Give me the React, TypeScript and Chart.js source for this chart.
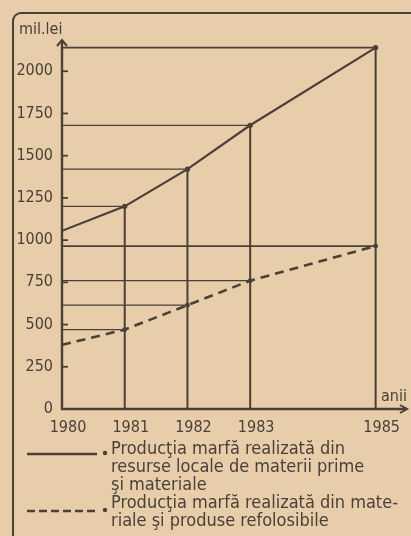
import React, { useEffect, useRef } from "react";
import { Chart, registerables } from "chart.js";

Chart.register(...registerables);

const YEARS = [1980, 1981, 1982, 1983, 1985];
const LOCAL_RESOURCES = [1055, 1200, 1420, 1680, 2140];
const RECYCLED = [380, 470, 615, 760, 965];
const Y_TICKS = [0, 250, 500, 750, 1000, 1250, 1500, 1750, 2000];
const X_TICKS = [1980, 1981, 1982, 1983, 1985];
const Y_TITLE = "mil.lei";
const X_TITLE = "anii";
const LEGEND_1 = [
  "Producţia marfă realizată din",
  "resurse locale de materii prime",
  "şi materiale",
];
const LEGEND_2 = [
  "Producţia marfă realizată din mate-",
  "riale şi produse refolosibile",
];

const PAPER = "#e8cdaa";
const INK = "#4a4038";
const FONT = "'DejaVu Sans', sans-serif";

function seg(ctx: CanvasRenderingContext2D, x1: number, y1: number, x2: number, y2: number) {
  ctx.beginPath();
  ctx.moveTo(x1, y1);
  ctx.lineTo(x2, y2);
  ctx.stroke();
}

const decor = {
  id: "decor",
  beforeDatasetsDraw(chart: any) {
    const ctx: CanvasRenderingContext2D = chart.ctx;
    const xs = chart.scales.x;
    const ys = chart.scales.y;
    const ca = chart.chartArea;
    ctx.save();
    ctx.strokeStyle = INK;
    ctx.lineCap = "butt";
    // horizontal guide lines
    [LOCAL_RESOURCES, RECYCLED].forEach((series) =>
      series.forEach((v, i) => {
        if (i === 0) return;
        const px = xs.getPixelForValue(YEARS[i]);
        const py = ys.getPixelForValue(v);
        ctx.lineWidth = i === YEARS.length - 1 ? 1.8 : 1.2;
        seg(ctx, ca.left, py, px, py);
      })
    );
    // vertical guide lines
    ctx.lineWidth = 2;
    YEARS.forEach((yr, i) => {
      if (i === 0) return;
      const px = xs.getPixelForValue(yr);
      seg(ctx, px, ca.bottom, px, ys.getPixelForValue(LOCAL_RESOURCES[i]));
    });
    // y tick marks (inside)
    ctx.lineWidth = 1.8;
    Y_TICKS.forEach((v) => {
      if (v === 0) return;
      const py = ys.getPixelForValue(v);
      seg(ctx, ca.left, py, ca.left + 6, py);
    });
    // axes
    ctx.lineWidth = 2.4;
    seg(ctx, ca.left, ca.bottom + 1, ca.left, ca.top);
    seg(ctx, ca.left - 1, ca.bottom, ca.right, ca.bottom);
    // arrow heads
    ctx.lineWidth = 2;
    ctx.beginPath();
    ctx.moveTo(ca.left - 5, ca.top + 6);
    ctx.lineTo(ca.left, ca.top);
    ctx.lineTo(ca.left + 5, ca.top + 6);
    ctx.stroke();
    ctx.beginPath();
    ctx.moveTo(ca.right - 7, ca.bottom - 4);
    ctx.lineTo(ca.right, ca.bottom);
    ctx.lineTo(ca.right - 7, ca.bottom + 4);
    ctx.stroke();
    ctx.restore();
  },
  afterDraw(chart: any) {
    const ctx: CanvasRenderingContext2D = chart.ctx;
    const ca = chart.chartArea;
    ctx.save();
    ctx.strokeStyle = INK;
    ctx.fillStyle = INK;
    // frame
    ctx.lineWidth = 2;
    ctx.beginPath();
    ctx.moveTo(13, chart.height);
    ctx.lineTo(13, 21);
    ctx.arcTo(13, 13, 21, 13, 8);
    ctx.lineTo(chart.width, 13);
    ctx.stroke();
    // axis titles
    ctx.font = `condensed 16px ${FONT}`;
    ctx.textBaseline = "alphabetic";
    ctx.textAlign = "left";
    ctx.fillText(Y_TITLE, 19, 34);
    ctx.fillText(X_TITLE, ca.right - 26, ca.bottom - 8);
    // legend samples
    const sx1 = 27, sx2 = 97;
    ctx.lineWidth = 2.5;
    seg(ctx, sx1, 454, sx2, 454);
    ctx.setLineDash([8, 4]);
    seg(ctx, sx1, 511, sx2, 511);
    ctx.setLineDash([]);
    ctx.beginPath();
    ctx.arc(105, 453, 2.2, 0, Math.PI * 2);
    ctx.fill();
    ctx.beginPath();
    ctx.arc(105, 510, 2.2, 0, Math.PI * 2);
    ctx.fill();
    // legend text
    ctx.font = `condensed 18px ${FONT}`;
    const sc = 234 / ctx.measureText(LEGEND_1[0]).width;
    const lines = [...LEGEND_1, ...LEGEND_2];
    const bases = [454, 472, 489.5, 507.5, 525.5];
    lines.forEach((t, i) => {
      ctx.save();
      ctx.translate(111, bases[i]);
      ctx.scale(sc, 1);
      ctx.fillText(t, 0, 0);
      ctx.restore();
    });
    ctx.restore();
  },
};

export default function App() {
  const ref = useRef<HTMLCanvasElement>(null);
  useEffect(() => {
    if (!ref.current) return;
    const chart = new Chart(ref.current, {
      type: "line",
      data: {
        datasets: [
          {
            label: LEGEND_1.join(" "),
            data: YEARS.map((yr, i) => ({ x: yr, y: LOCAL_RESOURCES[i] })),
            borderColor: INK,
            borderWidth: 2.2,
            pointRadius: YEARS.map((_, i) => (i === 0 ? 0 : 2.6)),
            pointBackgroundColor: INK,
            pointBorderWidth: 0,
            tension: 0,
          },
          {
            label: LEGEND_2.join(" "),
            data: YEARS.map((yr, i) => ({ x: yr, y: RECYCLED[i] })),
            borderColor: INK,
            borderWidth: 2.6,
            borderDash: [9, 6],
            pointRadius: YEARS.map((_, i) => (i === 0 ? 0 : 2.4)),
            pointBackgroundColor: INK,
            pointBorderWidth: 0,
            tension: 0,
          },
        ],
      },
      options: {
        animation: false,
        responsive: false,
        devicePixelRatio: 1,
        layout: { padding: { top: 40, right: 1, left: 0, bottom: 0 } },
        plugins: { legend: { display: false }, tooltip: { enabled: false } },
        scales: {
          x: {
            type: "linear",
            min: 1980,
            max: 1985.5,
            grid: { display: false, drawTicks: false },
            border: { display: false },
            afterBuildTicks: (s: any) => {
              s.ticks = X_TICKS.map((v) => ({ value: v }));
            },
            afterFit: (s: any) => {
              s.height = 127;
            },
            ticks: {
              autoSkip: false,
              maxRotation: 0,
              padding: 9,
              labelOffset: 6,
              color: INK,
              font: { family: FONT, size: 16, weight: "condensed" },
              callback: (v: any) => String(v),
            },
          },
          y: {
            type: "linear",
            min: 0,
            max: 2185,
            grid: { display: false, drawTicks: false },
            border: { display: false },
            afterBuildTicks: (s: any) => {
              s.ticks = Y_TICKS.map((v) => ({ value: v }));
            },
            afterFit: (s: any) => {
              s.width = 62;
            },
            ticks: {
              padding: 9,
              color: INK,
              font: { family: FONT, size: 16, weight: "condensed" },
              callback: (v: any) => String(v),
            },
          },
        },
      },
      plugins: [decor],
    } as any);
    return () => chart.destroy();
  }, []);
  return (
    <div
      style={{
        position: "fixed",
        left: 0,
        top: 0,
        width: 411,
        height: 536,
        background: PAPER,
      }}
    >
      <canvas ref={ref} width={411} height={536} style={{ display: "block" }} />
    </div>
  );
}
